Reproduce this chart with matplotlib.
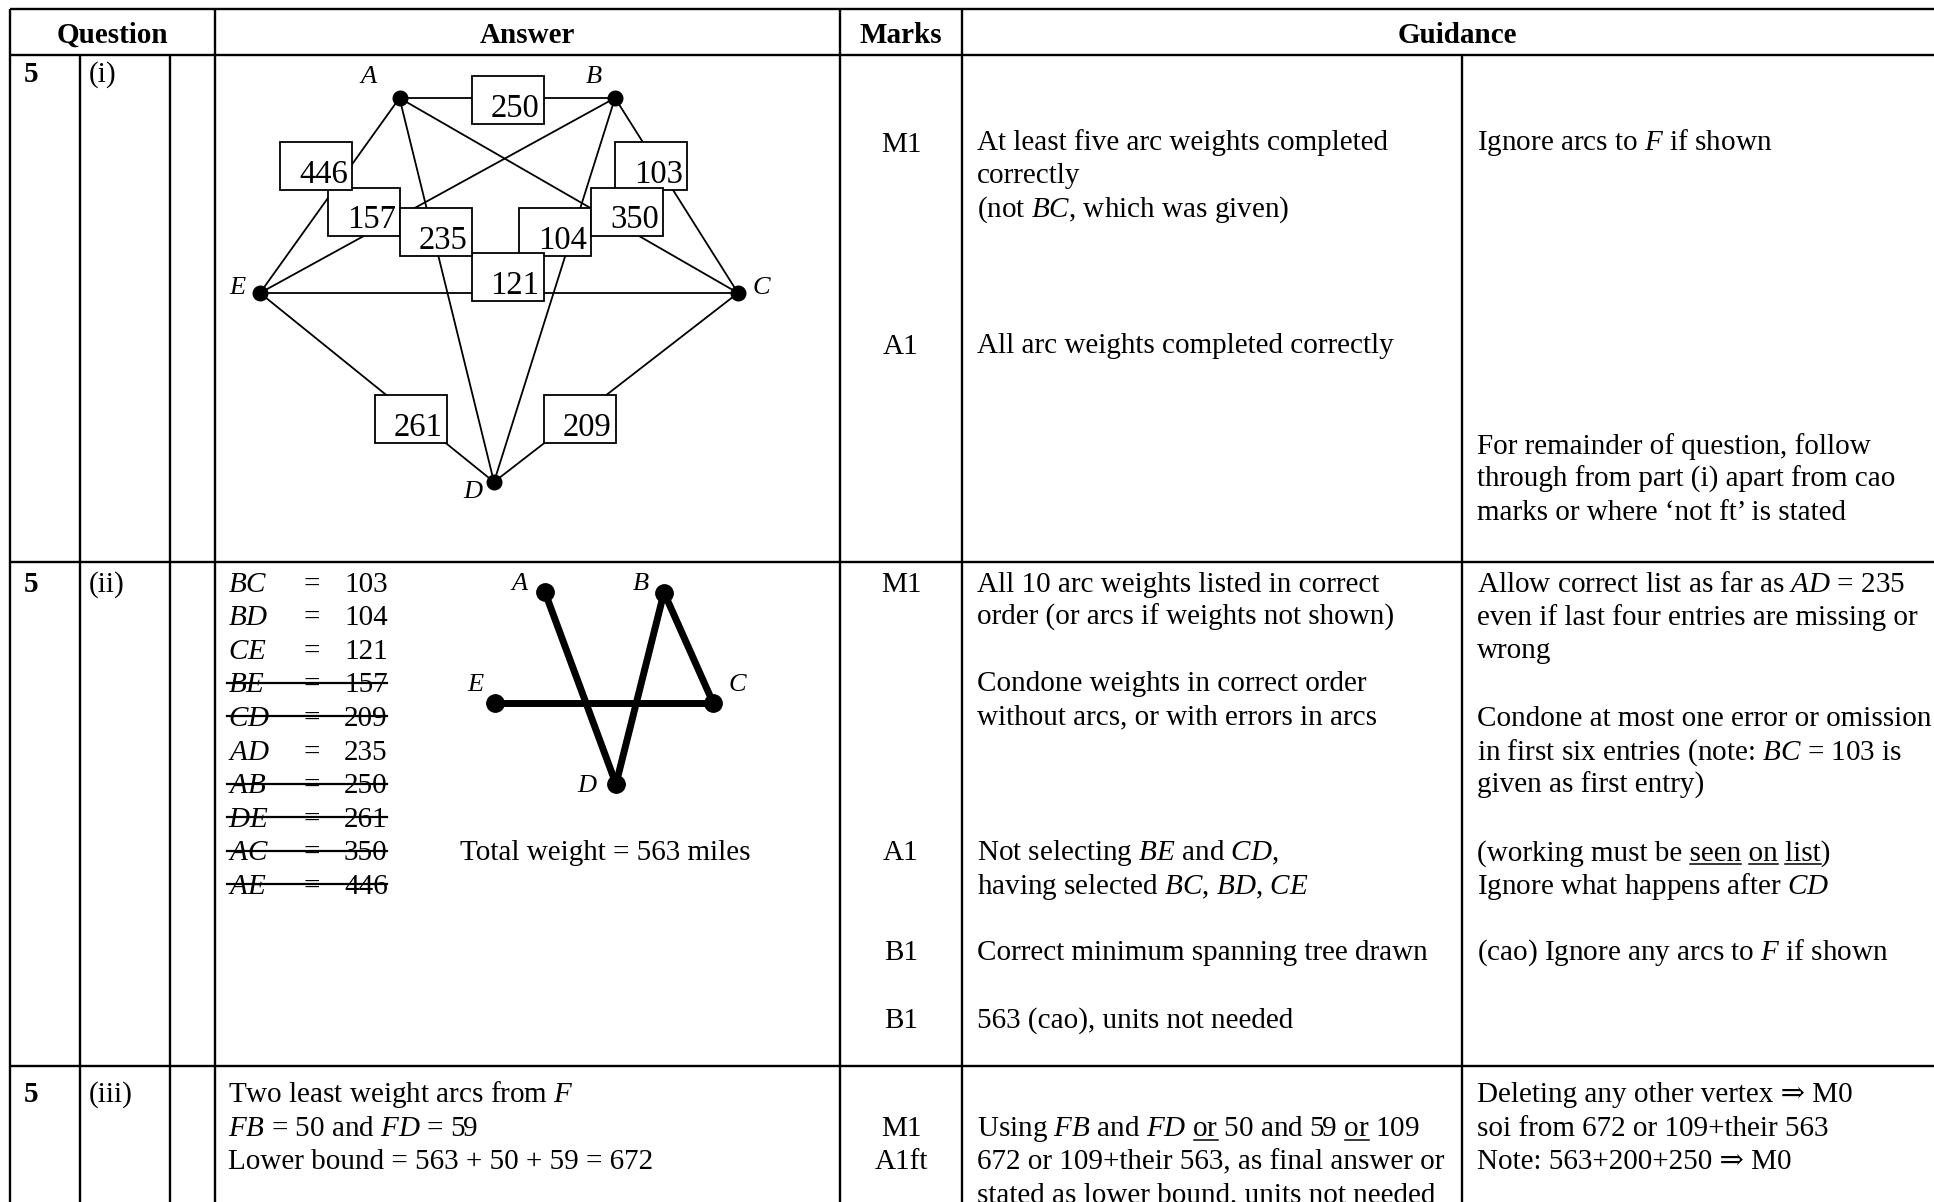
import matplotlib
matplotlib.use("Agg")
import matplotlib.pyplot as plt
from matplotlib.patches import Rectangle

plt.rcParams['font.family'] = ['Liberation Serif', 'DejaVu Serif']
plt.rcParams['mathtext.fontset'] = 'custom'
plt.rcParams['mathtext.rm'] = 'Liberation Serif'
plt.rcParams['mathtext.it'] = 'Liberation Serif:italic'
plt.rcParams['mathtext.bf'] = 'Liberation Serif:bold'

# ---- data ----
headers = ["Question", "Answer", "Marks", "Guidance"]
question_no = "5"
parts = ["(i)", "(ii)", "(iii)"]

nodes = ["A", "B", "C", "D", "E"]
# arcs sorted by weight (Kruskal list)
arc_names = ["BC", "BD", "CE", "BE", "CD", "AD", "AB", "DE", "AC", "AE"]
arc_weights = [103, 104, 121, 157, 209, 235, 250, 261, 350, 446]
rejected = ["BE", "CD", "AB", "DE", "AC", "AE"]
f_arcs = ["FB", "FD"]
f_weights = [50, 59]

marks_i = ["M1", "A1"]
marks_ii = ["M1", "A1", "B1", "B1"]
marks_iii = ["M1", "A1ft"]

guid_i_a = ["At least five arc weights completed", "correctly",
            "(not $BC$, which was given)", "All arc weights completed correctly"]
guid_i_b = ["Ignore arcs to $F$ if shown", "For remainder of question, follow",
            "through from part (i) apart from cao", "marks or where \u2018not ft\u2019 is stated"]
guid_ii_a = ["All 10 arc weights listed in correct", "order (or arcs if weights not shown)",
             "Condone weights in correct order", "without arcs, or with errors in arcs",
             "Not selecting $BE$ and $CD$,", "having selected $BC$, $BD$, $CE$",
             "Correct minimum spanning tree drawn", "563 (cao), units not needed"]
guid_ii_b = ["Allow correct list as far as $AD$ = 235", "even if last four entries are missing or",
             "wrong", "Condone at most one error or omission",
             "in first six entries (note: $BC$ = 103 is", "given as first entry)",
             "(working must be seen on list)", "Ignore what happens after $CD$",
             "(cao) Ignore any arcs to $F$ if shown"]
guid_iii_a = ["Using $FB$ and $FD$ or 50 and 59 or 109", "672 or 109+their 563, as final answer or",
              "stated as lower bound, units not needed"]
guid_iii_b = ["Deleting any other vertex \u21d2 M0", "soi from 672 or 109+their 563",
              "Note: 563+200+250 \u21d2 M0"]

# ---- layout (pixels) ----
FS = 21
col_x = [10, 80, 170, 215, 840, 962, 1462]
row_y = [9, 54.5, 562, 1066]

node_xy = {"A": (399.5, 98), "B": (615, 98), "C": (738, 293), "D": (494, 482), "E": (260, 293)}
node_lbl = {"A": (368.5, 83), "B": (593.5, 83), "C": (761.5, 294.5), "D": (472.6, 498), "E": (237, 294.5)}
box_xy = {"AB": (471.5, 76), "AE": (280, 142), "BC": (615, 142), "BE": (328, 187.5),
          "AD": (400, 208), "BD": (519, 208), "AC": (591, 187.5), "CE": (471.5, 253),
          "DE": (375, 394.6), "CD": (543.6, 394.6)}
mst_xy = {"A": (544.7, 591.5), "B": (664, 592.5), "C": (713, 702.5), "D": (616, 784), "E": (495, 702.5)}
mst_lbl = {"A": (519, 590), "B": (640.6, 590), "C": (737, 691), "D": (586.5, 792), "E": (475, 691)}

fig = plt.figure(figsize=(19.34, 12.02), dpi=100)
ax = fig.add_axes([0, 0, 1, 1])
ax.set_xlim(0, 1934)
ax.set_ylim(1202, 0)
ax.axis('off')
renderer = fig.canvas.get_renderer()


def txt(x, y, s, size=FS, **kw):
    return ax.text(x, y, s, fontsize=size, va='baseline', **kw)


def width(s, size=FS):
    t = ax.text(0, 0, s, fontsize=size)
    w = t.get_window_extent(renderer).width
    t.remove()
    return w


def underline(x, y, line, word, start=0):
    i = line.index(word, start)
    end = width(line[:i + len(word)])
    ax.plot([x + end - width(word), x + end], [y + 4, y + 4], color='k', lw=1.1)
    return i + len(word)


# ---- table grid ----
LW = 1.7
for y in row_y:
    ax.plot([col_x[0], 1934], [y, y], color='k', lw=LW, solid_capstyle='butt')
for x in [col_x[0], col_x[3], col_x[4], col_x[5]]:
    ax.plot([x, x], [row_y[0], 1202], color='k', lw=LW, solid_capstyle='butt')
for x in [col_x[1], col_x[2], col_x[6]]:
    ax.plot([x, x], [row_y[1], 1202], color='k', lw=LW, solid_capstyle='butt')

head_cx = [112.5, 527.5, 901, 1457]
for cx, h in zip(head_cx, headers):
    txt(cx, 43, h, ha='center', fontweight='bold')

# question / part labels
for base, p in zip([82, 591.5, 1102], parts):
    txt(24, base, question_no, fontweight='bold')
    txt(89, base, p)

# ---- part (i): network ----
for name, w in zip(arc_names, arc_weights):
    a, b = node_xy[name[0]], node_xy[name[1]]
    ax.plot([a[0], b[0]], [a[1], b[1]], color='k', lw=1.3, zorder=2)
    x0, y0 = box_xy[name]
    ax.add_patch(Rectangle((x0, y0), 72, 48, facecolor='white', edgecolor='k', lw=1.3, zorder=3))
    ax.text(x0 + 43.5, y0 + 41, str(w), fontsize=23.5, ha='center', va='baseline', zorder=4)
for n in nodes:
    ax.plot(*node_xy[n], 'o', color='k', ms=10.5, zorder=5)
    ax.text(*node_lbl[n], n, fontsize=19, fontstyle='italic', ha='center', va='baseline')

for s, yb in zip(marks_i, [151.5, 353.5]):
    txt(901, yb, s, ha='center')
for s, yb in zip(guid_i_a, [150, 183.3, 216.7, 353.3]):
    txt(977, yb, s)
for s, yb in zip(guid_i_b, [150, 453.6, 487, 520]):
    txt(1477, yb, s)

# ---- part (ii): Kruskal list + tree ----
for k, (name, w) in enumerate(zip(arc_names, arc_weights)):
    yb = 591.5 + 33.6 * k
    txt(228, yb, "$" + name + "$")
    txt(311.6, yb, "=", ha='center')
    txt(344, yb, str(w))
    if name in rejected:
        ax.plot([227, 387], [yb - 9.5, yb - 9.5], color='k', lw=1.6)

accepted = [n for n in arc_names if n not in rejected]
for name in accepted:
    a, b = mst_xy[name[0]], mst_xy[name[1]]
    ax.plot([a[0], b[0]], [a[1], b[1]], color='k', lw=5, solid_capstyle='round', zorder=2)
for n in nodes:
    ax.plot(*mst_xy[n], 'o', color='k', ms=12.5, zorder=3)
    ax.text(*mst_lbl[n], n, fontsize=19, fontstyle='italic', ha='center', va='baseline')
total = sum(w for n, w in zip(arc_names, arc_weights) if n in accepted)
txt(460.5, 860, f"Total weight = {total} miles")

for s, yb in zip(marks_ii, [591.5, 860, 960, 1027.6]):
    txt(901, yb, s, ha='center')
for s, yb in zip(guid_ii_a, [591.5, 624.7, 691, 724.5, 860, 893.5, 960, 1027.6]):
    txt(977, yb, s)
yb_ii_b = [591.5, 625, 658.5, 725.9, 759.5, 793, 860.3, 893.9, 960]
for s, yb in zip(guid_ii_b, yb_ii_b):
    txt(1477, yb, s)
pos = 0
for wd in ["seen", "on", "list"]:
    pos = underline(1477, yb_ii_b[6], guid_ii_b[6], wd, pos)

# ---- part (iii) ----
lb = total + sum(f_weights)
ans_iii = ["Two least weight arcs from $F$",
           f"${f_arcs[0]}$ = {f_weights[0]} and ${f_arcs[1]}$ = {f_weights[1]}",
           f"Lower bound = {total} + {f_weights[0]} + {f_weights[1]} = {lb}"]
for s, yb in zip(ans_iii, [1102, 1135.5, 1169]):
    txt(228, yb, s)
for s, yb in zip(marks_iii, [1135.5, 1169]):
    txt(901, yb, s, ha='center')
for s, yb in zip(guid_iii_a, [1135.5, 1169, 1202.5]):
    txt(977, yb, s)
pos = 0
for wd in ["or", "or"]:
    pos = underline(977, 1135.5, guid_iii_a[0], wd, pos)
for s, yb in zip(guid_iii_b, [1102, 1135.5, 1169]):
    txt(1477, yb, s)

fig.savefig("out.png", dpi=100, facecolor='white')
